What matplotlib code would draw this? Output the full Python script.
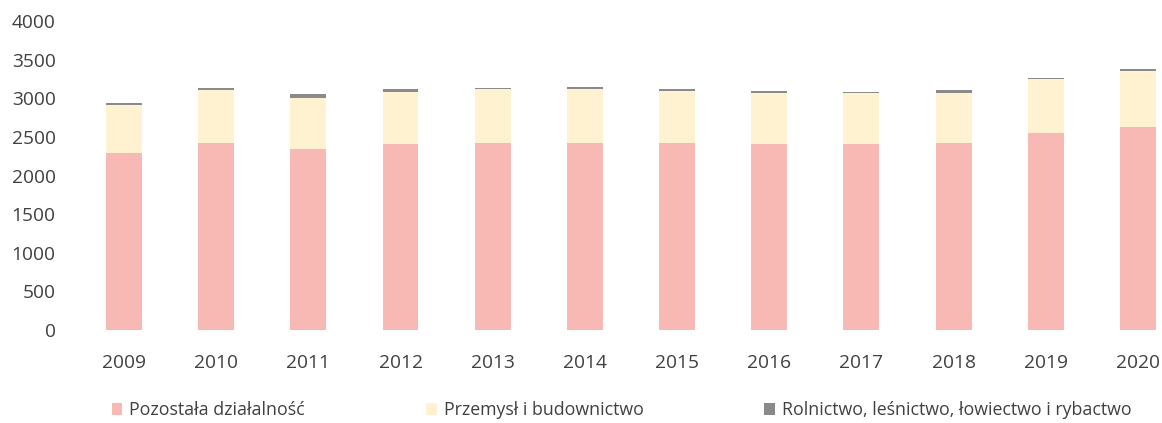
import numpy as np
import matplotlib.pyplot as plt

years = ["2009", "2010", "2011", "2012", "2013", "2014",
         "2015", "2016", "2017", "2018", "2019", "2020"]
pozostala = np.array([2290, 2425, 2350, 2405, 2425, 2425, 2425, 2415, 2405, 2425, 2555, 2630])
rolnictwo = np.array([25, 20, 45, 40, 25, 35, 25, 20, 20, 35, 25, 35])
totals = np.array([2940, 3130, 3050, 3120, 3140, 3150, 3115, 3095, 3085, 3105, 3270, 3385])
przemysl = totals - pozostala - rolnictwo

labels = ["Pozostała działalność", "Przemysł i budownictwo",
          "Rolnictwo, leśnictwo, łowiectwo i rybactwo"]
colors = ["#F8B9B4", "#FFF2D0", "#8A8A8A"]

plt.rcParams["font.family"] = ["Open Sans", "DejaVu Sans"]

fig = plt.figure(figsize=(11.62, 4.23), dpi=100)
ax = fig.add_axes([0.067, 0.22, 0.933, 0.73])

x = np.arange(len(years))
w = 0.39
ax.bar(x, pozostala, w, color=colors[0], label=labels[0])
ax.bar(x, przemysl, w, bottom=pozostala, color=colors[1], label=labels[1])
ax.bar(x, rolnictwo, w, bottom=pozostala + przemysl, color=colors[2], label=labels[2])

ax.set_xlim(-0.5, 11.26)
ax.set_ylim(0, 4000)
ax.set_yticks(np.arange(0, 4001, 500))
ax.set_xticks(x)
ax.set_xticklabels(years)
for s in ax.spines.values():
    s.set_visible(False)
ax.tick_params(length=0, labelsize=13.8, colors="#404040")
ax.tick_params(axis="y", pad=16)
ax.tick_params(axis="x", pad=17)

fig.legend(loc="center", bbox_to_anchor=(0.535, 0.03), ncol=3, frameon=False,
           fontsize=12.8, handlelength=0.6, handleheight=0.6, handletextpad=0.4,
           columnspacing=6.8, labelcolor="#404040")

plt.savefig("out.png")
plt.close()
